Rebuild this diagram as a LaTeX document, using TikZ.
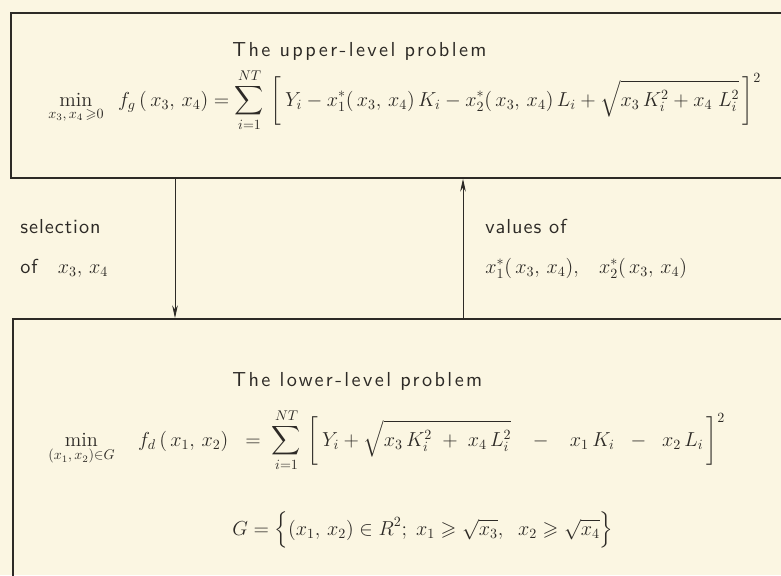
\documentclass[tikz,border=0pt]{standalone}
\usepackage{amsmath,amssymb}
\usepackage{fontspec}
\usetikzlibrary{arrows.meta}
\newfontfamily\sperrsans{lmsans10-regular.otf}[LetterSpace=12]
\newfontfamily\leichtsperr{lmsans10-regular.otf}[LetterSpace=5]
\definecolor{papier}{RGB}{251,246,226}
\definecolor{tinte}{RGB}{45,42,38}
\begin{document}
\begin{tikzpicture}[
        x=0.025cm, y=-0.025cm,
        color=tinte,
        font=\Large,
        ebene/.style={
            draw,
            line width=1.3pt,
            anchor=north west,
            minimum width=20cm,
            inner sep=0pt
        },
        titel/.style={
            anchor=base west,
            inner sep=0pt,
            font=\sperrsans\Large
        },
        notiz/.style={
            anchor=base west,
            inner sep=0pt,
            font=\leichtsperr\Large
        },
        formel/.style={
            anchor=base west,
            inner sep=0pt
        },
        pfeil/.style={
            -{Stealth[length=9pt,width=4pt]},
            line width=0.6pt
        }
    ]
    % Hintergrund und Rahmen
    \fill[papier] (0,0) rectangle (781,575);
    \useasboundingbox (0,0) rectangle (781,575);
    \clip (0,0) rectangle (781,575);
    % Ebenen
    \node[ebene, minimum height=4.125cm] (upper) at (10,12) {};
    \node[ebene, minimum height=7.5cm] (lower) at (12,318) {};
    % obere Ebene
    \node[titel] (uptitle) at (232,56) {The upper-level problem};
    \node[formel] (upform) at (48,106) {$\displaystyle
        \min\limits_{x_3,\,x_4\,\geqslant 0}\;\; f_g\,(\,x_3,\,x_4)=\sum_{i=1}^{NT}\,
        \left[\,Y_i-x_1^{*}(\,x_3,\,x_4)\,K_i-x_2^{*}(\,x_3,\,x_4)\,L_i+\sqrt{x_3\,K_i^2+x_4\;L_i^2}\,\right]^2$};
    % untere Ebene
    \node[titel] (lowtitle) at (232,386) {The lower-level problem};
    \node[formel] (lowform) at (48,446) {$\displaystyle
        \min\limits_{(x_1,\,x_2)\in G}\quad f_d\,(\,x_1,\,x_2)\;\;=\;\sum_{i=1}^{NT}\,
        \left[\,Y_i+\sqrt{x_3\,K_i^2\;+\;x_4\,L_i^2}\;\;\;-\;\;\;x_1\,K_i\;\;-\;\;x_2\,L_i\,\right]^2$};
    \node[formel] (menge) at (232,535) {$\displaystyle
        G=\Bigl\{(x_1,\,x_2)\in R^2;\; x_1\geqslant\sqrt{x_3},\;\; x_2\geqslant\sqrt{x_4}\Bigr\}$};
    % Verbindungen
    \coordinate (sel) at (175,0);
    \coordinate (val) at (463,0);
    \draw[pfeil] (upper.south -| sel) -- (lower.north -| sel);
    \draw[pfeil] (lower.north -| val) -- (upper.south -| val);
    % Beschriftungen
    \node[notiz] (seltext) at (20,233) {selection};
    \node[notiz] (selvars) at (20,273) {of\quad$x_3,\,x_4$};
    \node[notiz] (valtext) at (485,233) {values of};
    \node[notiz] (valvars) at (485,273) {$x_1^{*}(\,x_3,\,x_4),\;\;\; x_2^{*}(\,x_3,\,x_4)$};
\end{tikzpicture}
\end{document}
